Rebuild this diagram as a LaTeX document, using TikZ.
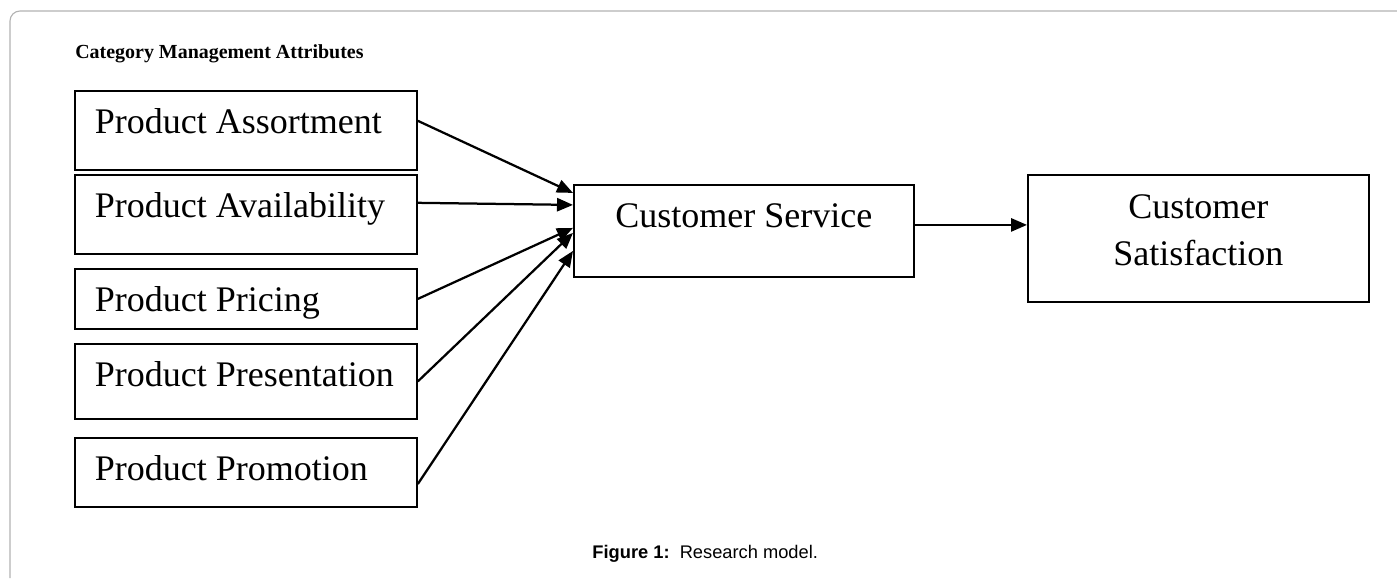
\documentclass[tikz,border=0pt]{standalone}
\usepackage{fontspec}
\setmainfont{Liberation Serif}
\newfontfamily\capfont{Liberation Sans}
\usepackage{tikz}
\usetikzlibrary{arrows.meta,shapes,positioning}
\usepackage{xcolor}
\definecolor{framegray}{RGB}{178,178,178}
\tikzstyle{arrow} = [line width=1.6pt,-{Triangle[length=0.4cm,width=0.33cm]},color=black]

\begin{document}
\begin{tikzpicture}[
    attr/.style={rectangle, draw, line width=1.3pt, anchor=north west, text width=7.55cm, align=flush left, inner xsep=0.5cm, inner ysep=0pt, text height=1.075cm, font=\fontsize{25.6}{33.4}\selectfont},
    outcome/.style={rectangle, draw, line width=1.3pt, anchor=north west, align=center, inner xsep=0pt, inner ysep=0pt, text height=1.075cm, font=\fontsize{25.6}{33.4}\selectfont}]

\useasboundingbox (0,0) rectangle (34.925,-14.45);

% Frame
\draw[framegray, line width=0.8pt, rounded corners=0.25cm] (0.25,-14.45) -- (0.25,-0.275) -- (34.925,-0.275);

% Heading
\node[anchor=base west, inner sep=0pt, font=\fontsize{14.2}{17}\selectfont\bfseries] (heading) at (1.875,-1.45) {Category Management Attributes};

% Attributes
\node[attr, text depth=0.9cm] (assort) at (1.85,-2.25) {Product Assortment};
\node[attr, text depth=0.9cm] (avail) at (1.85,-4.35) {Product Availability};
\node[attr, text depth=0.425cm] (pricing) at (1.85,-6.7) {Product Pricing};
\node[attr, text depth=0.8cm] (present) at (1.85,-8.575) {Product Presentation};
\node[attr, text depth=0.65cm] (promo) at (1.85,-10.925) {Product Promotion};

% Mediator and outcome
\node[outcome, minimum width=8.5cm, text depth=1.225cm] (service) at (14.325,-4.6) {Customer Service};
\node[outcome, text width=8.525cm, text height=1.1cm, text depth=2.075cm] (satisf) at (25.675,-4.35) {Customer\\Satisfaction};

% Connect attributes to service
\draw[arrow] ([yshift=0.24cm]assort.east) -- ([yshift=0.95cm]service.west);
\draw[arrow] ([yshift=0.29cm]avail.east) -- ([yshift=0.65cm]service.west);
\draw[arrow] (pricing.east) -- ([yshift=0.075cm]service.west);
\draw[arrow] (present.east) -- ([yshift=-0.05cm]service.west);
\draw[arrow] ([yshift=-0.29cm]promo.east) -- ([yshift=-0.5cm]service.west);

% Service to satisfaction
\draw[arrow] ([yshift=0.15cm]service.east) -- ([yshift=0.3375cm]satisf.west);

% Caption
\node[anchor=base, inner sep=0pt, font=\capfont\fontsize{13}{15}\selectfont] (caption) at (17.63,-13.95) {\textbf{Figure 1:}\ \ Research model.};

\end{tikzpicture}
\end{document}
